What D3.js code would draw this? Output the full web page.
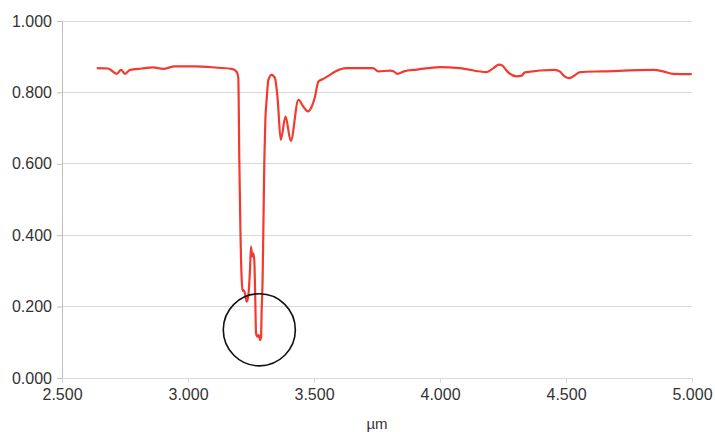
<!DOCTYPE html>
<html>
<head>
<meta charset="utf-8">
<script src="https://cdn.jsdelivr.net/npm/d3@7"></script>
<style>
  html, body { margin: 0; padding: 0; background: #fff; }
  svg text { font-family: "Liberation Sans", Arial, sans-serif; }
</style>
</head>
<body>
<svg id="chart" width="715" height="432"></svg>
<script>
// wavelength (µm)
const wavelength = [
  2.638, 2.683, 2.717, 2.734, 2.750, 2.770, 2.816, 2.861, 2.901, 2.948,
  3.028, 3.119, 3.173, 3.193, 3.1996, 3.2036, 3.208, 3.2131, 3.216, 3.220,
  3.226, 3.233, 3.239, 3.246, 3.250, 3.255, 3.259, 3.263, 3.267, 3.270,
  3.276, 3.281, 3.286, 3.290, 3.292, 3.296, 3.299, 3.303, 3.307, 3.312,
  3.319, 3.332, 3.345, 3.356, 3.368, 3.387, 3.408, 3.438, 3.458, 3.475,
  3.492, 3.504, 3.517, 3.537, 3.563, 3.583, 3.630, 3.669, 3.734, 3.755,
  3.802, 3.815, 3.831, 3.857, 3.909, 4.000, 4.079, 4.185, 4.212, 4.234,
  4.248, 4.262, 4.274, 4.304, 4.324, 4.337, 4.456, 4.476, 4.496, 4.512,
  4.529, 4.556, 4.647, 4.846, 4.886, 4.925, 4.999
];
// transmittance
const transmittance = [
  0.868, 0.867, 0.852, 0.863, 0.852, 0.863, 0.867, 0.870, 0.866, 0.873,
  0.873, 0.869, 0.866, 0.858, 0.840, 0.611, 0.415, 0.275, 0.244, 0.246,
  0.237, 0.214, 0.228, 0.303, 0.368, 0.340, 0.349, 0.331, 0.218, 0.125,
  0.116, 0.120, 0.106, 0.116, 0.182, 0.275, 0.415, 0.611, 0.723, 0.779,
  0.835, 0.849, 0.840, 0.779, 0.667, 0.732, 0.664, 0.779, 0.760, 0.747,
  0.762, 0.788, 0.830, 0.838, 0.849, 0.858, 0.868, 0.868, 0.868, 0.859,
  0.861, 0.859, 0.852, 0.859, 0.864, 0.871, 0.868, 0.857, 0.868, 0.878,
  0.875, 0.863, 0.854, 0.845, 0.847, 0.856, 0.863, 0.858, 0.844, 0.840,
  0.845, 0.857, 0.859, 0.863, 0.859, 0.852, 0.851
];
const xTicks = [2.5, 3.0, 3.5, 4.0, 4.5, 5.0];
const yTicks = [0, 0.2, 0.4, 0.6, 0.8, 1.0];
const xLabel = "µm";
// highlighted region (center wavelength, center value, radius in µm)
const marker = { x: 3.283, y: 0.135, r: 0.143 };

const svg = d3.select("#chart");
const m = { left: 62, right: 23, top: 21, bottom: 54 };
const W = 715, H = 432;
const x = d3.scaleLinear().domain([2.5, 5.0]).range([m.left, W - m.right]);
const y = d3.scaleLinear().domain([0, 1]).range([H - m.bottom, m.top]);

// gridlines
svg.append("g").selectAll("line").data(yTicks.filter(d => d > 0)).join("line")
  .attr("x1", x(2.5)).attr("x2", x(5.0))
  .attr("y1", d => y(d)).attr("y2", d => y(d))
  .attr("stroke", "#d9d9d9").attr("stroke-width", 1).attr("shape-rendering", "crispEdges");

// y axis
const yAxis = svg.append("g").attr("transform", `translate(${m.left},0)`)
  .call(d3.axisLeft(y).tickValues(yTicks).tickFormat(d3.format(".3f")).tickSize(5).tickPadding(5));
yAxis.select(".domain").attr("stroke", "#bfbfbf");
yAxis.selectAll(".tick line").attr("stroke", "#bfbfbf");
yAxis.selectAll("text").attr("font-size", 16).attr("fill", "#333");

// x axis
const xAxis = svg.append("g").attr("transform", `translate(0,${H - m.bottom})`)
  .call(d3.axisBottom(x).tickValues(xTicks).tickFormat(d3.format(".3f")).tickSize(5).tickPadding(6));
xAxis.select(".domain").attr("stroke", "#d9d9d9");
xAxis.selectAll(".tick line").attr("stroke", "#d9d9d9");
xAxis.selectAll("text").attr("font-size", 16).attr("fill", "#333");

svg.append("text").attr("x", (x(2.5) + x(5.0)) / 2).attr("y", 429)
  .attr("text-anchor", "middle").attr("font-size", 15).attr("fill", "#333").text(xLabel);

// line
const data = wavelength.map((w, i) => [w, transmittance[i]]);
svg.append("path").datum(data)
  .attr("fill", "none").attr("stroke", "#f23a2e").attr("stroke-width", 2.2)
  .attr("stroke-linejoin", "round")
  .attr("d", d3.line().x(d => x(d[0])).y(d => y(d[1])).curve(d3.curveMonotoneX));

// circle marker
svg.append("circle")
  .attr("cx", x(marker.x)).attr("cy", y(marker.y))
  .attr("r", x(marker.x + marker.r) - x(marker.x))
  .attr("fill", "none").attr("stroke", "#111").attr("stroke-width", 1.6);
</script>
</body>
</html>
